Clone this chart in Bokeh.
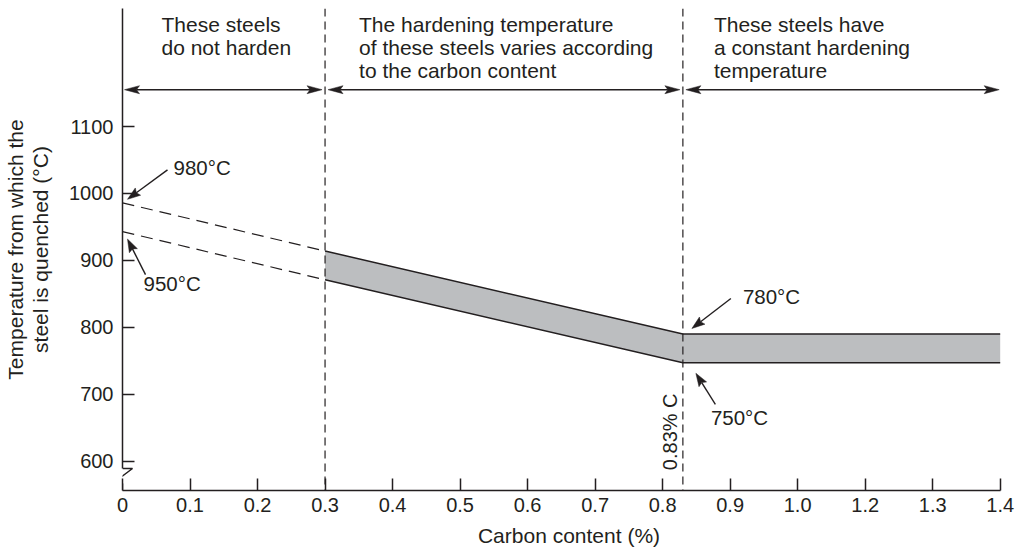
import math
from bokeh.plotting import figure
from bokeh.models import Range1d, FixedTicker, Span
from bokeh.core.properties import value
from bokeh.embed import file_html
from bokeh.resources import INLINE

# ---------------- data ----------------
carbon = [0.0, 0.3, 0.83, 1.4]            # carbon content (%) at band break points
upper_temp = [986, 914, 790, 790]          # upper limit of hardening temperature (°C)
lower_temp = [943, 871, 747, 747]          # lower limit of hardening temperature (°C)
region_bounds = [0.0, 0.3, 0.83, 1.4]
region_text = [
    ["These steels", "do not harden"],
    ["The hardening temperature", "of these steels varies according", "to the carbon content"],
    ["These steels have", "a constant hardening", "temperature"],
]
x_tick_labels = ["0", "0.1", "0.2", "0.3", "0.4", "0.5", "0.6", "0.7", "0.8",
                 "0.9", "1.0", "1.2", "1.3", "1.4"]
y_ticks = [600, 700, 800, 900, 1000, 1100]
point_labels = ["980°C", "950°C", "780°C", "750°C"]
eutectoid_label = "0.83% C"
x_title = "Carbon content (%)"
y_title = "Temperature from which the\nsteel is quenched (°C)"

# ---------------- styling / layout ----------------
INK = "#231f20"
BAND = "#bcbec0"
FONT = "Liberation Sans"
BL, BR, BT, BB = 116, 0, 8, 52
FW, FH = 893, 482
SX = 877.7 / 1.3                  # px per axis unit
X0, X1 = 0.0, FW / SX
Y0, Y1 = 556.2, 1276.3
SY = FH / (Y1 - Y0)
TXT_DY = -8                       # baseline correction for text glyphs


def ax(c):
    # the printed axis skips the label 1.1: labels after 1.0 sit one step early
    return round(c if c <= 1.0 else c - 0.1, 4)


p = figure(frame_width=FW, frame_height=FH, x_range=Range1d(X0, X1), y_range=Range1d(Y0, Y1),
           output_backend="svg", toolbar_location=None,
           min_border_left=BL, min_border_right=BR, min_border_top=BT, min_border_bottom=BB)
p.outline_line_color = None
p.grid.visible = False
p.background_fill_color = "white"
p.border_fill_color = "white"

# axes
xt = [ax(float(l)) for l in x_tick_labels]
p.xaxis.ticker = FixedTicker(ticks=xt, minor_ticks=[])
p.xaxis.major_label_overrides = {t: l for t, l in zip(xt, x_tick_labels)}
p.xaxis.bounds = (0, ax(carbon[-1]))
p.yaxis.ticker = FixedTicker(ticks=y_ticks, minor_ticks=[])
for a in (p.xaxis[0], p.yaxis[0]):
    a.axis_line_color = INK
    a.axis_line_width = 1.5
    a.major_tick_line_color = INK
    a.major_tick_line_width = 1.5
    a.major_tick_out = 0
    a.major_tick_in = 12
    a.minor_tick_line_color = None
    a.major_label_text_font = FONT
    a.major_label_text_font_size = "20px"
    a.major_label_text_color = INK
    a.axis_label_text_font = FONT
    a.axis_label_text_font_size = "21px"
    a.axis_label_text_font_style = "normal"
    a.axis_label_text_color = INK
p.xaxis.major_label_standoff = 7
p.xaxis.major_label_text_line_height = 0.9
p.xaxis.axis_label = x_title
p.xaxis.axis_label_standoff = 9
p.xaxis.axis_label_text_line_height = 0.9
p.yaxis.major_label_standoff = 9
p.yaxis.axis_label = y_title
p.yaxis.axis_label_standoff = 14
p.yaxis.axis_label_text_line_height = 1.1

# y-axis break (zigzag) below 600
brk_top = 600 - 7.3 / SY
brk_bot = 600 - 22.3 / SY
p.yaxis.bounds = (brk_top, Y1)
zx = [0, 10 / SX, -10 / SX, 0, 0]
zy = [brk_top, brk_top, brk_bot, brk_bot, Y0]
p.line(zx, zy, line_color=INK, line_width=1.5)

# region boundaries
for b in region_bounds[1:-1]:
    p.add_layout(Span(location=ax(b), dimension="height", line_color=INK,
                      line_width=1.2, line_dash="8 5"))

# shaded band
bx = [ax(c) for c in carbon[1:]]
p.patch(bx + bx[::-1], upper_temp[1:] + lower_temp[1:][::-1],
        fill_color=BAND, line_alpha=0)
p.line(bx, upper_temp[1:], line_color=INK, line_width=1.5)
p.line(bx, lower_temp[1:], line_color=INK, line_width=1.5)
# extrapolated dashed part (steels that do not harden)
dx = [ax(c) for c in carbon[:2]]
p.line(dx, upper_temp[:2], line_color=INK, line_width=1.2, line_dash="12 7")
p.line(dx, lower_temp[:2], line_color=INK, line_width=1.2, line_dash="12 7")

# ---------------- arrows ----------------
shafts_x, shafts_y, heads_x, heads_y = [], [], [], []


def to_data(x, y, px, py):
    return x + px / SX, y - py / SY


def add_arrow(x, y, tail, tip, heads=("end",), L=14, HW=4.5, notch=2.5):
    tx, ty = tail
    hx, hy = tip
    d = math.hypot(hx - tx, hy - ty)
    ux, uy = (hx - tx) / d, (hy - ty) / d
    s0, s1 = (tx, ty), (hx, hy)
    ends = []
    if "end" in heads:
        ends.append(((hx, hy), (ux, uy)))
        s1 = (hx - ux * (L - notch), hy - uy * (L - notch))
    if "start" in heads:
        ends.append(((tx, ty), (-ux, -uy)))
        s0 = (tx + ux * (L - notch), ty + uy * (L - notch))
    a, b = to_data(x, y, *s0), to_data(x, y, *s1)
    shafts_x.append([a[0], b[0]])
    shafts_y.append([a[1], b[1]])
    for (px_, py_), (vx, vy) in ends:
        bxp, byp = px_ - vx * L, py_ - vy * L
        qx, qy = -vy, vx
        poly = [(px_, py_), (bxp + qx * HW, byp + qy * HW),
                (px_ - vx * (L - notch), py_ - vy * (L - notch)),
                (bxp - qx * HW, byp - qy * HW)]
        dd = [to_data(x, y, u, v) for u, v in poly]
        heads_x.append([q[0] for q in dd])
        heads_y.append([q[1] for q in dd])


ARROW_Y = 1155
for i in range(3):
    x_a, x_b = ax(region_bounds[i]), ax(region_bounds[i + 1])
    gap_a = 2 if i == 0 else 3
    gap_b = 1 if i == 2 else 3
    width_px = (x_b - x_a) * SX
    add_arrow(x_a, ARROW_Y, (gap_a, 0), (width_px - gap_b, 0),
              heads=("start", "end"), L=15, HW=4, notch=3)

# temperature call-outs: anchor, tail offset, tip offset, text offset (px)
callouts = [
    ((ax(carbon[0]), upper_temp[0]), (45, -33), (5, -3.5), (51, -27)),
    ((ax(carbon[0]), lower_temp[0]), (23, 43), (5, 7.5), (21, 60)),
    ((ax(carbon[2]), upper_temp[2]), (48, -35.5), (9, -5.5), (60, -30)),
    ((ax(carbon[2]), lower_temp[2]), (32.5, 41.5), (13, 10.5), (28, 62.5)),
]
for (anc, tail, tip, toff), lab in zip(callouts, point_labels):
    add_arrow(anc[0], anc[1], tail, tip, heads=("end",), L=13, HW=4.5, notch=2)
    p.text(x=[anc[0]], y=[anc[1]], text=[lab], x_offset=toff[0], y_offset=toff[1] + TXT_DY,
           text_font=value(FONT), text_font_size="20.5px", text_color=INK,
           text_align="left", text_baseline="alphabetic")

p.multi_line(shafts_x, shafts_y, line_color=INK, line_width=1.4)
p.patches(heads_x, heads_y, fill_color=INK, line_color=INK, line_width=0.5)

# region descriptions
offsets_x = [39, 34, 31]
line_offsets = [-57, -34, -11]
for b, lines, ox in zip(region_bounds[:-1], region_text, offsets_x):
    for j, t in enumerate(lines):
        p.text(x=[ax(b)], y=[ARROW_Y], text=[t], x_offset=ox, y_offset=line_offsets[j] + TXT_DY,
               text_font=value(FONT), text_font_size="21px", text_color=INK,
               text_align="left", text_baseline="alphabetic")

# eutectoid label, vertical
p.text(x=[ax(carbon[2])], y=[lower_temp[2]], text=[eutectoid_label], angle=math.pi / 2,
       x_offset=-13, y_offset=69, text_font=value(FONT), text_font_size="20px",
       text_color=INK, text_align="center", text_baseline="middle")

open("out.html", "w").write(file_html(p, INLINE))
